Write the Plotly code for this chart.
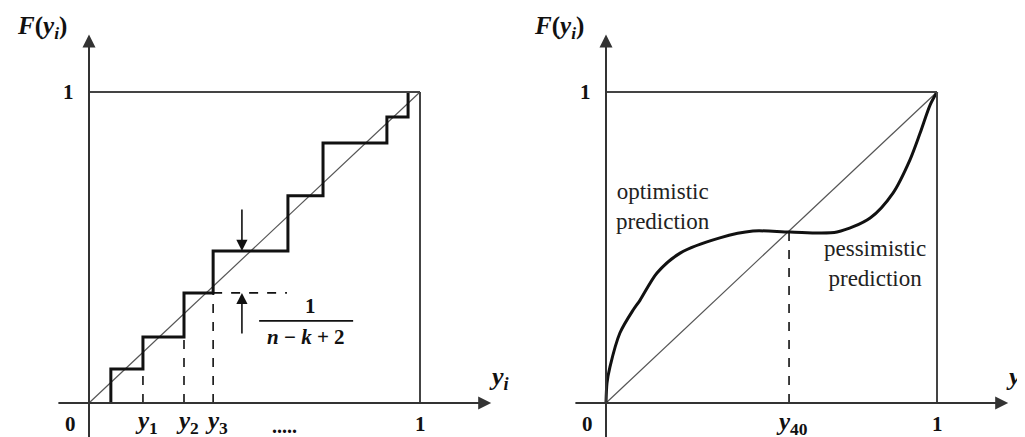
import plotly.graph_objects as go

# ---------------- data (left panel: empirical step CDF) ----------------
step_x = [0.066, 0.163, 0.287, 0.375, 0.601, 0.707, 0.900, 0.964]
step_y = [0.109, 0.212, 0.354, 0.489, 0.666, 0.836, 0.920, 1.0]
tick_labels_left = ["0", "y1", "y2", "y3", ".....", "1"]

# ---------------- data (right panel: S-shaped CDF) ----------------
curve_x = [0.0, 0.003, 0.012, 0.042, 0.082, 0.103, 0.154, 0.224, 0.344, 0.444,
           0.556, 0.698, 0.798, 0.867, 0.918, 0.949, 0.979, 1.0]
curve_y = [0.0, 0.064, 0.116, 0.225, 0.299, 0.331, 0.418, 0.482, 0.531, 0.553,
           0.550, 0.550, 0.595, 0.675, 0.781, 0.868, 0.958, 1.0]
y40 = 0.553

W, H = 1025, 437
PX = 331.0  # px per unit x
PY = 311.0  # px per unit y
OFF = 8     # page body margin
left_x0_px, right_x0_px, y0_px = 89 - OFF, 606 - OFF, 403 - OFF

xr_left = [-left_x0_px / PX, (W - left_x0_px) / PX]
xr_right = [-right_x0_px / PX, (W - right_x0_px) / PX]
yr = [-(H - y0_px) / PY, y0_px / PY]

MATH = "Liberation Serif"
BLACK = "#111111"
AX = "#333333"
BOX = "#444444"
DIAG = "#555555"

fig = go.Figure()

# ---- left panel ----
fig.add_trace(go.Scatter(x=[0, 1], y=[0, 1], mode="lines", xaxis="x", yaxis="y",
                         line=dict(color=DIAG, width=1.2), hoverinfo="skip"))
sx = step_x + [step_x[-1]]
sy = [0] + step_y
fig.add_trace(go.Scatter(x=sx, y=sy, mode="lines", line_shape="vh", xaxis="x", yaxis="y",
                         line=dict(color=BLACK, width=3), hoverinfo="skip"))
for i in range(1, 4):
    fig.add_trace(go.Scatter(x=[step_x[i], step_x[i]], y=[0, step_y[i - 1]], mode="lines",
                             xaxis="x", yaxis="y",
                             line=dict(color=BLACK, width=1.6, dash="dash"), hoverinfo="skip"))
fig.add_trace(go.Scatter(x=[step_x[3], 0.598], y=[step_y[2], step_y[2]], mode="lines",
                         xaxis="x", yaxis="y",
                         line=dict(color=BLACK, width=1.6, dash="dash"), hoverinfo="skip"))

# ---- right panel ----
fig.add_trace(go.Scatter(x=[0, 1], y=[0, 1], mode="lines", xaxis="x2", yaxis="y",
                         line=dict(color=DIAG, width=1.2), hoverinfo="skip"))
fig.add_trace(go.Scatter(x=curve_x, y=curve_y, mode="lines", line_shape="spline",
                         line_smoothing=0.8, xaxis="x2", yaxis="y",
                         line=dict(color=BLACK, width=3), hoverinfo="skip"))
fig.add_trace(go.Scatter(x=[y40, y40], y=[0, y40], mode="lines", xaxis="x2", yaxis="y",
                         line=dict(color=BLACK, width=1.6, dash="dash"), hoverinfo="skip"))

shapes = []
annotations = []
for xr in ("x", "x2"):
    # box: top and right side
    shapes.append(dict(type="line", xref=xr, yref="y", x0=0, x1=1, y0=1, y1=1,
                       line=dict(color=BOX, width=2)))
    shapes.append(dict(type="line", xref=xr, yref="y", x0=1, x1=1, y0=0, y1=1,
                       line=dict(color=BOX, width=2)))
    # axes with arrowheads
    annotations.append(dict(xref=xr, yref="y", axref=xr, ayref="y",
                            x=1.215, y=0, ax=-0.097, ay=0, text="", showarrow=True,
                            arrowhead=2, arrowsize=1.3, arrowwidth=2, arrowcolor=AX))
    annotations.append(dict(xref=xr, yref="y", axref=xr, ayref="y",
                            x=0, y=1.185, ax=0, ay=-0.12, text="", showarrow=True,
                            arrowhead=2, arrowsize=1.3, arrowwidth=2, arrowcolor=AX))
    # labels
    annotations.append(dict(xref=xr, yref="y", x=-0.142, y=1.206, showarrow=False,
                            text="<b><i>F</i>(<i>y</i><sub><i>i</i></sub>)</b>",
                            font=dict(family=MATH, size=25, color=BLACK)))
    annotations.append(dict(xref=xr, yref="y", x=-0.063, y=1.0, showarrow=False,
                            text="<b>1</b>", font=dict(family=MATH, size=21, color=BLACK)))
    annotations.append(dict(xref=xr, yref="y", x=-0.057, y=-0.068, showarrow=False,
                            text="<b>0</b>", font=dict(family=MATH, size=21, color=BLACK)))
    annotations.append(dict(xref=xr, yref="y", x=1.0, y=-0.068, showarrow=False,
                            text="<b>1</b>", font=dict(family=MATH, size=21, color=BLACK)))
    annotations.append(dict(xref=xr, yref="y", x=1.238, y=0.08, showarrow=False,
                            text="<b><i>y</i><sub><i>i</i></sub></b>",
                            font=dict(family=MATH, size=26, color=BLACK)))

# left tick labels
for i in range(1, 4):
    annotations.append(dict(xref="x", yref="y", x=step_x[i] + 0.01, y=-0.062, showarrow=False,
                            text=f"<b><i>y</i><sub>{i}</sub></b>",
                            font=dict(family=MATH, size=25, color=BLACK)))
annotations.append(dict(xref="x", yref="y", x=0.59, y=-0.075, showarrow=False,
                        text="<b>.....</b>", font=dict(family=MATH, size=20, color=BLACK)))

# arrows on left panel
arr_x = 0.462
annotations.append(dict(xref="x", yref="y", axref="x", ayref="y", x=arr_x, y=step_y[3],
                        ax=arr_x, ay=0.627, text="", showarrow=True, arrowhead=2,
                        arrowsize=1.4, arrowwidth=1.6, arrowcolor=BLACK))
annotations.append(dict(xref="x", yref="y", axref="x", ayref="y", x=arr_x, y=step_y[2],
                        ax=arr_x, ay=0.219, text="", showarrow=True, arrowhead=2,
                        arrowsize=1.4, arrowwidth=1.6, arrowcolor=BLACK))
# fraction 1/(n-k+2)
annotations.append(dict(xref="x", yref="y", x=0.668, y=0.312, showarrow=False,
                        text="<b>1</b>", font=dict(family=MATH, size=21, color=BLACK)))
annotations.append(dict(xref="x", yref="y", x=0.656, y=0.213, showarrow=False,
                        text="<b><i>n</i> − <i>k</i> + 2</b>",
                        font=dict(family=MATH, size=21, color=BLACK)))
shapes.append(dict(type="line", xref="x", yref="y", x0=0.514, x1=0.798, y0=0.264, y1=0.264,
                   line=dict(color=BLACK, width=1.6)))

# right panel labels
annotations.append(dict(xref="x2", yref="y", x=y40 + 0.01, y=-0.066, showarrow=False,
                        text="<b><i>y</i><sub>40</sub></b>",
                        font=dict(family=MATH, size=25, color=BLACK)))
annotations.append(dict(xref="x2", yref="y", x=0.172, y=0.633, showarrow=False,
                        text="optimistic<br>prediction",
                        font=dict(family="Liberation Serif", size=23, color="#222222")))
annotations.append(dict(xref="x2", yref="y", x=0.813, y=0.447, showarrow=False,
                        text="pessimistic<br>prediction",
                        font=dict(family="Liberation Serif", size=23, color="#222222")))

fig.update_layout(
    width=W, height=H, margin=dict(l=0, r=0, t=0, b=0),
    paper_bgcolor="white", plot_bgcolor="white", showlegend=False,
    xaxis=dict(range=xr_left, visible=False, fixedrange=True),
    xaxis2=dict(range=xr_right, visible=False, overlaying="x", fixedrange=True),
    yaxis=dict(range=yr, visible=False, fixedrange=True),
    shapes=shapes, annotations=annotations,
)

fig.write_html("out.html")
